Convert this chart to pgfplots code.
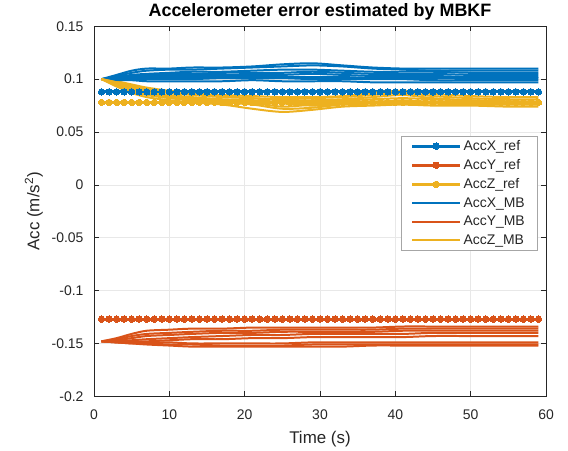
\documentclass[border=0pt]{standalone}
\usepackage{pgfplots}
\usepackage{pgfplotstable}
\usepackage{fontspec}
\setmainfont{Liberation Sans}
\pgfplotsset{compat=1.18}
\definecolor{mblue}{rgb}{0,0.447,0.741}
\definecolor{morange}{rgb}{0.85,0.325,0.098}
\definecolor{myellow}{rgb}{0.929,0.694,0.125}
\definecolor{axgray}{rgb}{0.15,0.15,0.15}

\pgfplotstableread{
t X Y Z
1 0.088 -0.127 0.078
2 0.088 -0.127 0.078
3 0.088 -0.127 0.078
4 0.088 -0.127 0.078
5 0.088 -0.127 0.078
6 0.088 -0.127 0.078
7 0.088 -0.127 0.078
8 0.088 -0.127 0.078
9 0.088 -0.127 0.078
10 0.088 -0.127 0.078
11 0.088 -0.127 0.078
12 0.088 -0.127 0.078
13 0.088 -0.127 0.078
14 0.088 -0.127 0.078
15 0.088 -0.127 0.078
16 0.088 -0.127 0.078
17 0.088 -0.127 0.078
18 0.088 -0.127 0.078
19 0.088 -0.127 0.078
20 0.088 -0.127 0.078
21 0.088 -0.127 0.078
22 0.088 -0.127 0.078
23 0.088 -0.127 0.078
24 0.088 -0.127 0.078
25 0.088 -0.127 0.078
26 0.088 -0.127 0.078
27 0.088 -0.127 0.078
28 0.088 -0.127 0.078
29 0.088 -0.127 0.078
30 0.088 -0.127 0.078
31 0.088 -0.127 0.078
32 0.088 -0.127 0.078
33 0.088 -0.127 0.078
34 0.088 -0.127 0.078
35 0.088 -0.127 0.078
36 0.088 -0.127 0.078
37 0.088 -0.127 0.078
38 0.088 -0.127 0.078
39 0.088 -0.127 0.078
40 0.088 -0.127 0.078
41 0.088 -0.127 0.078
42 0.088 -0.127 0.078
43 0.088 -0.127 0.078
44 0.088 -0.127 0.078
45 0.088 -0.127 0.078
46 0.088 -0.127 0.078
47 0.088 -0.127 0.078
48 0.088 -0.127 0.078
49 0.088 -0.127 0.078
50 0.088 -0.127 0.078
51 0.088 -0.127 0.078
52 0.088 -0.127 0.078
53 0.088 -0.127 0.078
54 0.088 -0.127 0.078
55 0.088 -0.127 0.078
56 0.088 -0.127 0.078
57 0.088 -0.127 0.078
58 0.088 -0.127 0.078
59 0.088 -0.127 0.078
}\reftable

\pgfplotstableread{
t x1 x2 x3 x4 x5 x6 x7 x8 y1 y2 y3 y4 y5 y6 y7 y8 z1 z2 z3 z4 z5 z6 z7 z8
1 0.100 0.100 0.100 0.100 0.100 0.100 0.100 0.100 -0.148 -0.148 -0.148 -0.148 -0.148 -0.148 -0.148 -0.148 0.100 0.100 0.100 0.100 0.100 0.100 0.100 0.100
3 0.104 0.103 0.102 0.101 0.101 0.100 0.100 0.099 -0.145 -0.146 -0.147 -0.148 -0.148 -0.149 -0.149 -0.149 0.098 0.097 0.096 0.095 0.094 0.093 0.097 0.095
5 0.108 0.106 0.104 0.103 0.102 0.101 0.100 0.099 -0.141 -0.143 -0.145 -0.147 -0.148 -0.149 -0.150 -0.150 0.095 0.093 0.092 0.090 0.089 0.087 0.094 0.091
7 0.110 0.108 0.105 0.104 0.103 0.101 0.100 0.098 -0.138 -0.141 -0.143 -0.146 -0.148 -0.149 -0.150 -0.151 0.092 0.090 0.088 0.086 0.085 0.083 0.091 0.087
10 0.110 0.109 0.106 0.105 0.103 0.102 0.100 0.098 -0.137 -0.140 -0.142 -0.145 -0.147 -0.149 -0.151 -0.152 0.089 0.087 0.085 0.083 0.082 0.080 0.088 0.084
13 0.111 0.109 0.107 0.105 0.104 0.102 0.100 0.098 -0.136 -0.139 -0.141 -0.144 -0.146 -0.150 -0.151 -0.153 0.087 0.085 0.083 0.081 0.080 0.078 0.086 0.082
17 0.111 0.110 0.107 0.106 0.104 0.102 0.101 0.098 -0.136 -0.138 -0.140 -0.143 -0.146 -0.150 -0.152 -0.153 0.085 0.083 0.081 0.080 0.078 0.076 0.084 0.080
21 0.112 0.111 0.108 0.106 0.104 0.103 0.101 0.099 -0.135 -0.138 -0.140 -0.142 -0.145 -0.150 -0.152 -0.153 0.084 0.082 0.080 0.078 0.076 0.072 0.082 0.079
25 0.114 0.112 0.109 0.106 0.104 0.102 0.101 0.098 -0.135 -0.137 -0.139 -0.142 -0.145 -0.150 -0.152 -0.153 0.083 0.081 0.078 0.074 0.072 0.069 0.080 0.077
29 0.115 0.113 0.109 0.107 0.105 0.102 0.100 0.098 -0.135 -0.137 -0.139 -0.141 -0.144 -0.149 -0.151 -0.153 0.083 0.082 0.079 0.076 0.073 0.071 0.080 0.075
33 0.113 0.112 0.108 0.106 0.104 0.102 0.100 0.098 -0.135 -0.137 -0.139 -0.141 -0.144 -0.149 -0.151 -0.153 0.084 0.083 0.080 0.078 0.076 0.074 0.081 0.077
37 0.111 0.110 0.107 0.105 0.103 0.101 0.100 0.097 -0.135 -0.137 -0.139 -0.141 -0.144 -0.149 -0.151 -0.152 0.087 0.085 0.081 0.079 0.077 0.075 0.083 0.078
41 0.110 0.109 0.107 0.105 0.103 0.101 0.100 0.097 -0.134 -0.136 -0.138 -0.141 -0.144 -0.149 -0.151 -0.152 0.089 0.087 0.082 0.079 0.078 0.076 0.085 0.080
45 0.110 0.108 0.107 0.105 0.103 0.101 0.099 0.097 -0.134 -0.136 -0.138 -0.140 -0.143 -0.149 -0.151 -0.152 0.086 0.084 0.081 0.079 0.077 0.075 0.082 0.078
50 0.110 0.108 0.106 0.104 0.102 0.101 0.099 0.097 -0.134 -0.136 -0.138 -0.140 -0.143 -0.149 -0.151 -0.152 0.084 0.082 0.080 0.078 0.076 0.075 0.080 0.077
55 0.110 0.108 0.106 0.104 0.102 0.101 0.099 0.097 -0.134 -0.136 -0.138 -0.140 -0.143 -0.149 -0.151 -0.152 0.083 0.081 0.079 0.077 0.076 0.074 0.079 0.077
59 0.110 0.108 0.106 0.104 0.102 0.101 0.099 0.097 -0.134 -0.136 -0.138 -0.140 -0.143 -0.149 -0.151 -0.152 0.083 0.081 0.079 0.077 0.076 0.074 0.078 0.076
}\mbtable

\begin{document}
\begin{tikzpicture}
\begin{axis}[
  scale only axis,
  width=452bp, height=370bp,
  xmin=0, xmax=60, ymin=-0.2, ymax=0.15,
  xtick={0,10,...,60},
  ytick={-0.2,-0.15,-0.1,-0.05,0,0.05,0.1,0.15},
  yticklabels={-0.2,-0.15,-0.1,-0.05,0,0.05,0.1,0.15},
  /pgf/number format/assume math mode=true,
  tick align=inside,
  major tick length=5bp,
  grid=major,
  grid style={gray!18, line width=0.5pt},
  axis line style={axgray, line width=0.6pt},
  tick style={axgray, line width=0.6pt},
  ticklabel style={font=\fontsize{14}{16}\selectfont, text=axgray},
  yticklabel style={xshift=-7bp},
  xticklabel style={yshift=-10bp},
  xlabel={Time (s)},
  ylabel={Acc (m/s\textsuperscript{2})},
  xlabel style={yshift=-5bp},
  ylabel style={yshift=2bp},
  label style={font=\fontsize{17}{19}\selectfont, text=axgray},
  title={\textbf{Accelerometer error estimated by MBKF}},
  title style={font=\fontsize{18}{20}\selectfont, at={(rel axis cs:0.5,1)}, anchor=base, yshift=4bp},
  legend style={at={(rel axis cs:0.98,0.703)}, anchor=north east,
    font=\fontsize{14}{16}\selectfont, draw=gray!70, fill=white,
    row sep=3.5bp, inner xsep=10bp, inner ysep=2bp, text=axgray},
  legend cell align=left,
  legend image code/.code={\draw[#1, mark repeat=2, mark phase=2] plot coordinates {(0bp,0bp) (24bp,0bp) (48bp,0bp)};},
]
\addplot[mblue, line width=2.8pt, mark=*, mark size=3.2pt, mark options={line width=0pt}] table[x=t, y=X] {\reftable};
\addlegendentry{AccX\_ref}
\addplot[morange, line width=2.8pt, mark=*, mark size=3.2pt, mark options={line width=0pt}] table[x=t, y=Y] {\reftable};
\addlegendentry{AccY\_ref}
\addplot[myellow, line width=2.8pt, mark=*, mark size=3.2pt, mark options={line width=0pt}] table[x=t, y=Z] {\reftable};
\addlegendentry{AccZ\_ref}

\addplot[mblue, line width=2pt, smooth] table[x=t, y=x1] {\mbtable};
\addlegendentry{AccX\_MB}
\addplot[morange, line width=2pt, smooth] table[x=t, y=y1] {\mbtable};
\addlegendentry{AccY\_MB}
\addplot[myellow, line width=2pt, smooth] table[x=t, y=z1] {\mbtable};
\addlegendentry{AccZ\_MB}

\foreach \c in {x2,x3,x4,x5,x6,x7,x8}{
  \addplot[mblue, line width=2pt, smooth, forget plot] table[x=t, y=\c] {\mbtable};
}
\foreach \c in {y2,y3,y4,y5,y6,y7,y8}{
  \addplot[morange, line width=2pt, smooth, forget plot] table[x=t, y=\c] {\mbtable};
}
\foreach \c in {z2,z3,z4,z5,z6,z7,z8}{
  \addplot[myellow, line width=2pt, smooth, forget plot] table[x=t, y=\c] {\mbtable};
}
\end{axis}
\path ([shift={(-94bp,-53bp)}]current axis.south west) rectangle ([shift={(22bp,25bp)}]current axis.north east);
\end{tikzpicture}
\end{document}
